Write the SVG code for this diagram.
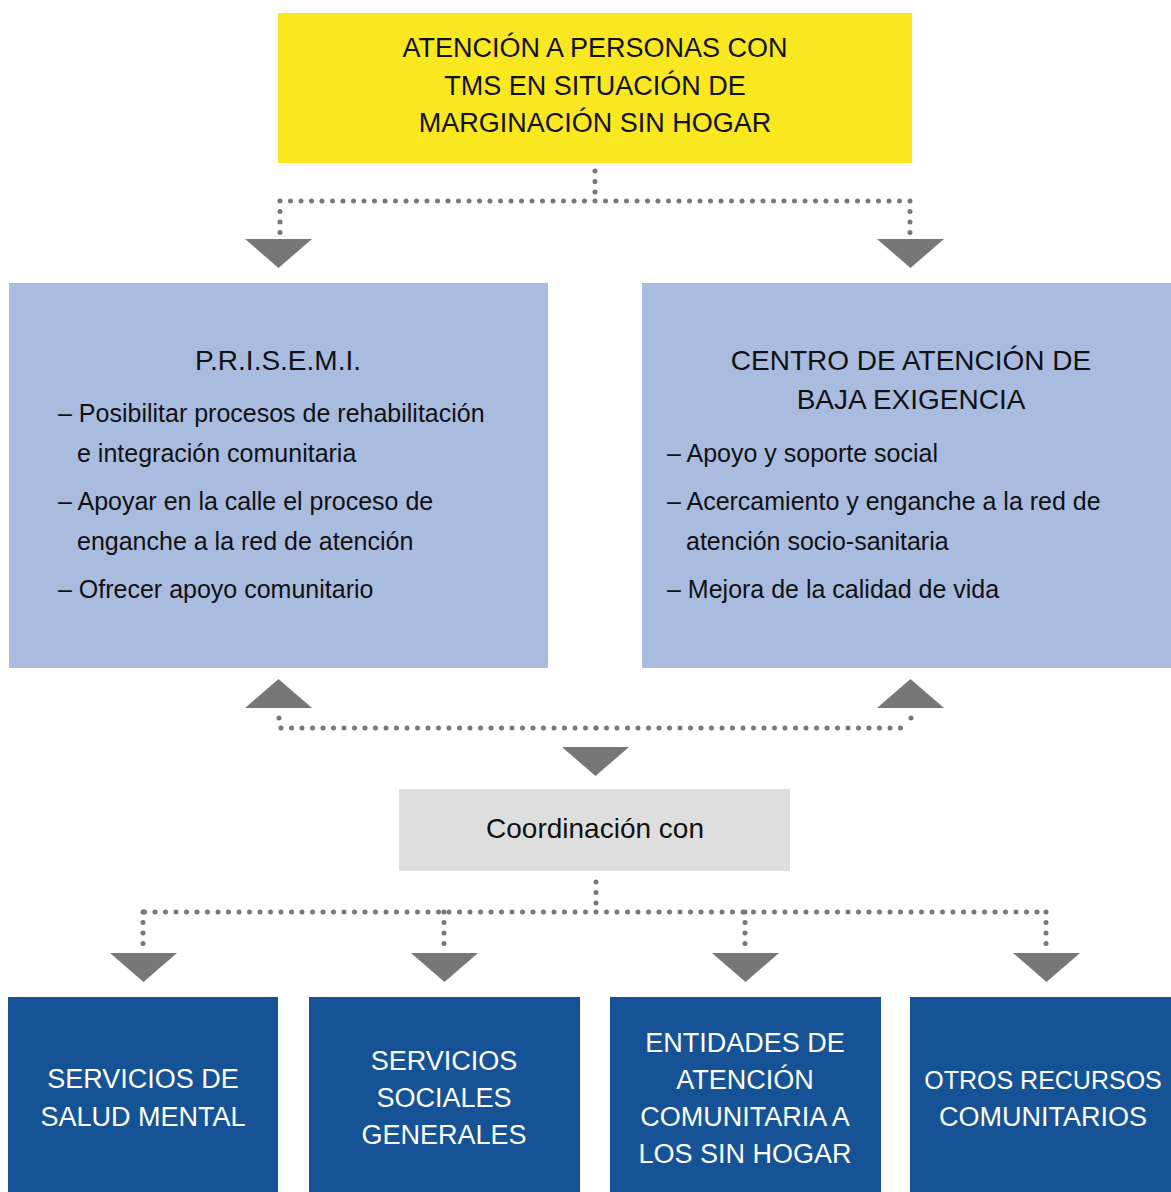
<svg xmlns="http://www.w3.org/2000/svg" width="1171" height="1192" viewBox="0 0 1171 1192">
<style>
text{font-family:"Liberation Sans",Arial,sans-serif;fill:#111}
.c{text-anchor:middle}
.t27{font-size:27px}
.t28{font-size:28px}
.b{font-size:25px}
.w{fill:#fff;font-size:27px;text-anchor:middle}
.dot{fill:none;stroke:#777;stroke-width:5;stroke-linecap:round;stroke-dasharray:0 10.5}
.ar{fill:#777}
</style>
<rect width="1171" height="1192" fill="#fff"/>
<g id="top">
<rect x="278" y="13" width="634" height="150" fill="#f9e81f"/>
<text class="c t27" x="595" y="57">ATENCIÓN A PERSONAS CON</text>
<text class="c t27" x="595" y="95">TMS EN SITUACIÓN DE</text>
<text class="c t27" x="595" y="132">MARGINACIÓN SIN HOGAR</text>
</g>
<g id="prisemi">
<rect x="9" y="283" width="539" height="385" fill="#a9bce0"/>
<text class="c t28" x="278" y="370">P.R.I.S.E.M.I.</text>
<text class="b" x="58" y="422">– Posibilitar procesos de rehabilitación</text>
<text class="b" x="77" y="462">e integración comunitaria</text>
<text class="b" x="58" y="510">– Apoyar en la calle el proceso de</text>
<text class="b" x="77" y="550">enganche a la red de atención</text>
<text class="b" x="58" y="598">– Ofrecer apoyo comunitario</text>
</g>
<g id="centro">
<rect x="642" y="283" width="529" height="385" fill="#a9bce0"/>
<text class="c t28" x="911" y="370">CENTRO DE ATENCIÓN DE</text>
<text class="c t28" x="911" y="409">BAJA EXIGENCIA</text>
<text class="b" x="667" y="462">– Apoyo y soporte social</text>
<text class="b" x="667" y="510">– Acercamiento y enganche a la red de</text>
<text class="b" x="686" y="550">atención socio-sanitaria</text>
<text class="b" x="667" y="598">– Mejora de la calidad de vida</text>
</g>
<g id="coordinacion">
<rect x="399" y="789" width="391" height="82" fill="#dedede"/>
<text class="c t28" x="595" y="838">Coordinación con</text>
</g>
<g id="salud-mental">
<rect x="8" y="997" width="270" height="195" fill="#155396"/>
<text class="w" x="143" y="1088">SERVICIOS DE</text>
<text class="w" x="143" y="1126">SALUD MENTAL</text>
</g>
<g id="servicios-sociales">
<rect x="309" y="997" width="271" height="195" fill="#155396"/>
<text class="w" x="444" y="1070">SERVICIOS</text>
<text class="w" x="444" y="1107">SOCIALES</text>
<text class="w" x="444" y="1144">GENERALES</text>
</g>
<g id="entidades">
<rect x="610" y="997" width="271" height="195" fill="#155396"/>
<text class="w" x="745" y="1052">ENTIDADES DE</text>
<text class="w" x="745" y="1089">ATENCIÓN</text>
<text class="w" x="745" y="1126">COMUNITARIA A</text>
<text class="w" x="745" y="1163">LOS SIN HOGAR</text>
</g>
<g id="otros">
<rect x="910" y="997" width="261" height="195" fill="#155396"/>
<text class="w" x="1043" y="1089" style="font-size:25px">OTROS RECURSOS</text>
<text class="w" x="1043" y="1126">COMUNITARIOS</text>
</g>
<g id="connectors">
<path class="dot" d="M595 171V201"/>
<path class="dot" d="M595 201H280M595 201H910"/>
<path class="dot" d="M280 201V233M910 201V233"/>
<polygon class="ar" points="245,239 312,239 278.5,268"/>
<polygon class="ar" points="877,239 944,239 910.5,268"/>
<polygon class="ar" points="245,708 312,708 278.5,679"/>
<polygon class="ar" points="877,708 944,708 910.5,679"/>
<path class="dot" d="M279 718V728M911 718V728"/>
<path class="dot" d="M596 728H279M596 728H911"/>
<path class="dot" d="M596 728V738"/>
<polygon class="ar" points="562,747 629,747 595.5,776"/>
<path class="dot" d="M596 882V912"/>
<path class="dot" d="M596 912H143M596 912H1046"/>
<path class="dot" d="M143 912V944M444 912V944M745 912V944M1046 912V944"/>
<polygon class="ar" points="110,953 177,953 143.5,982"/>
<polygon class="ar" points="411,953 478,953 444.5,982"/>
<polygon class="ar" points="712,953 779,953 745.5,982"/>
<polygon class="ar" points="1013,953 1080,953 1046.5,982"/>
</g>
</svg>
